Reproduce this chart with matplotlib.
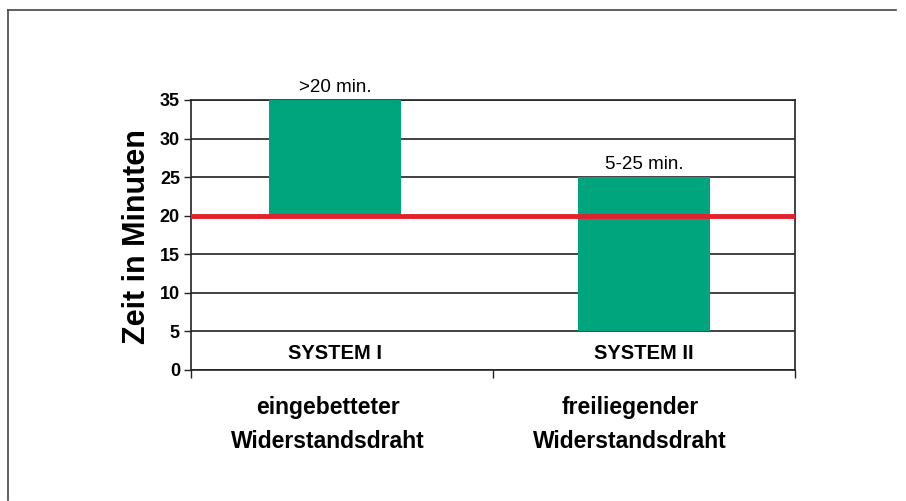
import matplotlib
matplotlib.use("Agg")
import matplotlib.pyplot as plt
from matplotlib.lines import Line2D

plt.rcParams['font.family'] = ['Liberation Sans', 'DejaVu Sans']

categories = ["eingebetteter\nWiderstandsdraht", "freiliegender\nWiderstandsdraht"]
systems = ["SYSTEM I", "SYSTEM II"]
bar_bottom = [20, 5]
bar_top = [35, 25]
bar_labels = [">20 min.", "5-25 min."]
threshold = 20
yticks = [0, 5, 10, 15, 20, 25, 30, 35]

fig = plt.figure(figsize=(9.06, 5.01), dpi=100)
ax = fig.add_axes([191/906, 1-370/501, 604/906, 270/501])

x = [0, 1]
shift = [-0.023, 0.0]  # small visual offset of the first bar
xb = [xi + s for xi, s in zip(x, shift)]
heights = [t - b for t, b in zip(bar_top, bar_bottom)]
ax.bar(xb, heights, bottom=bar_bottom, width=0.437, color="#00a57e", zorder=3)
ax.set_xlim(-0.5, 1.5)
ax.set_ylim(0, 35)
ax.set_yticks(yticks)
ax.set_yticklabels([str(v) for v in yticks], fontsize=13, fontweight='bold')
ax.yaxis.grid(True, color='#222222', linewidth=1.2, zorder=1)
ax.set_axisbelow(True)
ax.axhline(threshold, color='#e3202d', linewidth=3.5, zorder=4)

for xi, top, lab in zip(xb, bar_top, bar_labels):
    ax.text(xi, top + 0.5, lab, ha='center', va='bottom', fontsize=13.5)
for xi, s in zip(xb, systems):
    ax.text(xi, 2.1, s, ha='center', va='center', fontsize=14.5, fontweight='bold', zorder=5)

ax.set_xticks([-0.5, 0.5, 1.5], minor=False)
ax.set_xticklabels([])
ax.tick_params(axis='x', direction='out', length=6, width=1, color='#222222')
ax.tick_params(axis='y', direction='out', length=5, width=1, color='#222222', pad=3)
for xi, c in zip(x, categories):
    ax.text(xi - 0.046, -3.4, c, ha='center', va='top', fontsize=16.5, fontweight='bold',
            linespacing=1.6, transform=ax.transData)

for sp in ax.spines.values():
    sp.set_color('#222222')
    sp.set_linewidth(1.2)

ax.set_ylabel("Zeit in Minuten", fontsize=22, fontweight='bold')
ax.yaxis.set_label_coords((152 - 191) / 604, (370 - 237) / 270)

# outer frame (top and left lines)
fig.add_artist(Line2D([8/906, 8/906], [1-10/501, 1-500/501], color='#444444', linewidth=1.2, transform=fig.transFigure))
fig.add_artist(Line2D([8/906, 896/906], [1-10/501, 1-10/501], color='#444444', linewidth=1.2, transform=fig.transFigure))

fig.savefig("out.png", dpi=100)
